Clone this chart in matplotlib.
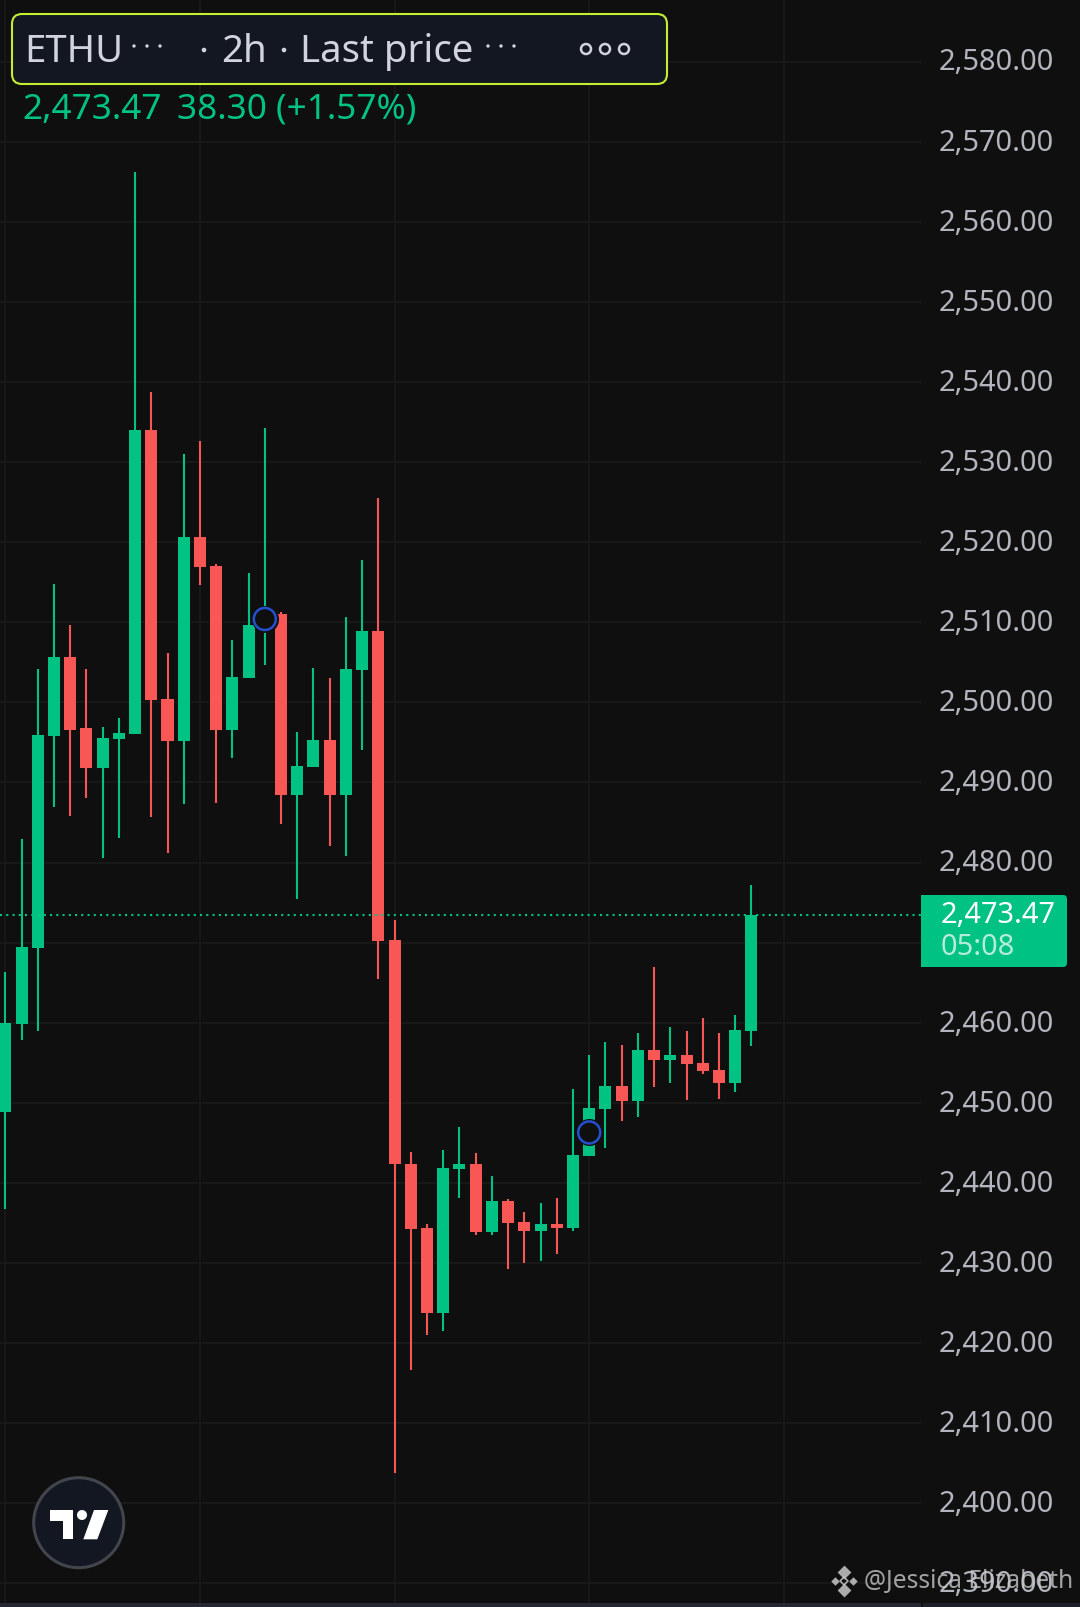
import numpy as np
import matplotlib
matplotlib.use('Agg')
import matplotlib.pyplot as plt
from matplotlib.patches import Circle, FancyBboxPatch, Polygon, Rectangle
from matplotlib.transforms import ScaledTranslation

plt.rcParams['font.family'] = ['Noto Sans', 'DejaVu Sans']

# candles
opens = [2448.9, 2459.8, 2469.3, 2495.8, 2505.6, 2496.8, 2491.8, 2495.4, 2496.0, 2534.0,
         2500.4, 2495.2, 2520.6, 2517.0, 2496.6, 2503.0, 2509.8, 2511.0, 2488.4, 2491.9,
         2495.3, 2488.4, 2504.0, 2508.9, 2470.3, 2442.4, 2434.4, 2423.8, 2441.7, 2442.4,
         2433.9, 2437.7, 2435.1, 2434.0, 2434.9, 2434.4, 2443.4, 2449.2, 2452.1, 2450.2,
         2456.6, 2455.3, 2456.0, 2455.0, 2454.1, 2452.5, 2459.0]
closes = [2460.0, 2469.5, 2495.9, 2505.6, 2496.6, 2491.8, 2495.6, 2496.2, 2534.0, 2500.3,
          2495.2, 2520.6, 2516.9, 2496.6, 2503.1, 2509.7, 2511.0, 2488.4, 2492.0, 2495.3,
          2488.4, 2504.1, 2508.9, 2470.2, 2442.3, 2434.2, 2423.8, 2441.9, 2442.4, 2433.9,
          2437.7, 2435.0, 2434.0, 2434.9, 2434.4, 2443.5, 2449.4, 2452.1, 2450.2, 2456.6,
          2455.3, 2456.0, 2454.8, 2454.0, 2452.5, 2459.1, 2473.47]
highs = [2466.3, 2482.9, 2504.1, 2514.8, 2509.7, 2504.1, 2496.9, 2498.1, 2566.2, 2538.8,
         2506.1, 2531.0, 2532.6, 2517.3, 2507.8, 2516.1, 2534.2, 2511.3, 2496.3, 2504.3,
         2503.0, 2510.7, 2517.8, 2525.5, 2472.8, 2443.9, 2434.9, 2444.1, 2447.0, 2443.7,
         2440.9, 2438.0, 2436.4, 2437.5, 2438.1, 2451.7, 2456.0, 2457.6, 2457.2, 2458.7,
         2467.0, 2459.5, 2459.0, 2460.6, 2458.7, 2461.0, 2477.2]
lows = [2436.7, 2457.8, 2459.0, 2486.9, 2485.8, 2488.0, 2480.5, 2483.0, 2496.0, 2485.7,
        2481.2, 2487.3, 2514.7, 2487.4, 2493.1, 2503.0, 2504.7, 2484.8, 2475.4, 2491.9,
        2482.1, 2480.8, 2494.1, 2465.4, 2403.8, 2416.6, 2421.0, 2421.5, 2438.1, 2433.5,
        2433.5, 2429.3, 2430.0, 2430.3, 2431.1, 2434.0, 2443.4, 2444.4, 2447.7, 2448.2,
        2452.0, 2452.5, 2450.3, 2453.6, 2450.5, 2451.3, 2457.1]

# the two blue markers
marker_idx = [16, 36]
marker_val = [2510.4, 2446.3]

last_price = 2473.47
price_ticks = list(range(2390, 2590, 10))
time_ticks = [0, 12, 24, 36, 48]

BG = '#0f0f0f'
GRID = '#181818'
GREEN = '#00c283'
RED = '#f95656'
LABEL = '#b2b5be'

W, H = 1080, 1608
fig = plt.figure(figsize=(W / 100, H / 100), dpi=100, facecolor=BG)

# plot area ends at x=921 and y=1604, the price scale sits right of it
ax = fig.add_axes([0, 1 - 1604 / H, 921 / W, 1604 / H], facecolor=BG)
ax.set_xlim(-5.3 / 16.22, (921 - 5.3) / 16.22)
ax.set_ylim(2470 - (1604 - 943.6) / 8.01, 2470 + 943.6 / 8.01)

x = np.arange(len(opens))
o = np.array(opens)
c = np.array(closes)
colors = [GREEN if b >= a else RED for a, b in zip(opens, closes)]

ax.vlines(x, lows, highs, colors=colors, linewidth=1.5, zorder=3)
ax.bar(x, c - o, bottom=o, width=0.74, color=colors, linewidth=0, zorder=4)

ax.axhline(last_price, color=GREEN, linewidth=1.5, linestyle=(0, (1, 2)), zorder=5)

ax.scatter(marker_idx, marker_val, s=(27 * 0.72) ** 2, color=BG, linewidths=0, zorder=6)
ax.scatter(marker_idx, marker_val, s=(22 * 0.72) ** 2, facecolors='none',
           edgecolors='#2450d0', linewidths=1.8, zorder=7)

ax.set_xticks(time_ticks)
ax.set_yticks(price_ticks)
ax.set_yticklabels([f'{v:,.2f}' for v in price_ticks])
ax.yaxis.tick_right()
ax.tick_params(axis='y', length=0, pad=13, labelsize=20.9, labelcolor=LABEL)
ax.tick_params(axis='x', length=0, labelbottom=False)
ax.grid(True, color=GRID, linewidth=1.5, zorder=1)
ax.set_axisbelow(True)
for s in ax.spines.values():
    s.set_visible(False)
# price labels sit a little above their grid lines
up = ScaledTranslation(0, 3 / 100, fig.dpi_scale_trans)
for lab in ax.get_yticklabels():
    lab.set_transform(lab.get_transform() + up)

# overlay in pixel coordinates for the header, badge and logos
ov = fig.add_axes([0, 0, 1, 1], facecolor='none')
ov.set_xlim(0, W)
ov.set_ylim(H, 0)
ov.axis('off')

# header box
ov.add_patch(FancyBboxPatch((12, 15), 655, 70, boxstyle='round,pad=0,rounding_size=10',
                            facecolor='#131722', edgecolor='#c3ee32', linewidth=1.5))
HEAD = '#d1d4dc'
for tx, s in [(24.5, 'ETHU'), (221, '2h'), (300.5, 'Last price')]:
    ov.text(tx, 52, s, color=HEAD, fontsize=27.6, va='center', ha='left')
for cx in [134, 147, 160, 204, 284, 488, 501, 514]:
    ov.add_patch(Circle((cx, 47 if cx not in (204, 284) else 51), 1.7 if cx not in (204, 284) else 2.3,
                        color=HEAD, linewidth=0))
for cx in [586, 605, 624]:
    ov.add_patch(Circle((cx, 50), 5, facecolor='none', edgecolor=HEAD, linewidth=1.8))

ov.text(22.5, 110, '2,473.47', color=GREEN, fontsize=25.3, va='center', ha='left')
ov.text(177, 110, '38.30 (+1.57%)', color=GREEN, fontsize=25.3, va='center', ha='left')

# last price badge
ov.add_patch(FancyBboxPatch((921, 896), 146, 72, boxstyle='round,pad=0,rounding_size=4',
                            facecolor=GREEN, edgecolor='none'))
ov.add_patch(Rectangle((921, 896), 10, 72, facecolor=GREEN, edgecolor='none'))
ov.text(941, 916, '2,473.47', color='white', fontsize=20.9, va='center', ha='left')
ov.text(941, 948, '05:08', color='#b5ecd9', fontsize=20.9, va='center', ha='left')

# bottom line
ov.add_patch(Rectangle((0, 1604), 921, 4, facecolor='#252833', edgecolor='none'))
ov.add_patch(Rectangle((923, 1604), 157, 4, facecolor='#1e2029', edgecolor='none'))

# tradingview logo
ov.add_patch(Circle((78.7, 1523.7), 45, facecolor='#131722', edgecolor='#43454d', linewidth=2.2))
ov.add_patch(Polygon([(50, 1511), (73.3, 1511), (73.3, 1540.3), (63.3, 1540.3),
                      (63.3, 1521.7), (50, 1521.7)], color='white', linewidth=0))
ov.add_patch(Circle((82, 1516), 5, color='white', linewidth=0))
ov.add_patch(Polygon([(94, 1511), (108.3, 1511), (97.3, 1540.3), (83.3, 1540.3)],
                     color='white', linewidth=0))

# watermark
WM = '#c8c8c8'
for dx, dy, r in [(0, -9, 5.2), (-9, 0, 3.2), (9, 0, 3.2), (0, 9, 5.2)]:
    ov.scatter([844 + dx], [1582 + dy], marker='D', s=(r * 1.35) ** 2, color=WM, linewidths=0, alpha=0.85)
ov.scatter([844], [1582], marker='D', s=16, facecolors='none', edgecolors=WM, linewidths=1.2, alpha=0.85)
ov.text(864, 1582, '@Jessica Elizabeth', color=WM, fontsize=17.7, va='center', ha='left', alpha=0.8)

fig.savefig('out.png', dpi=100, facecolor=BG)
